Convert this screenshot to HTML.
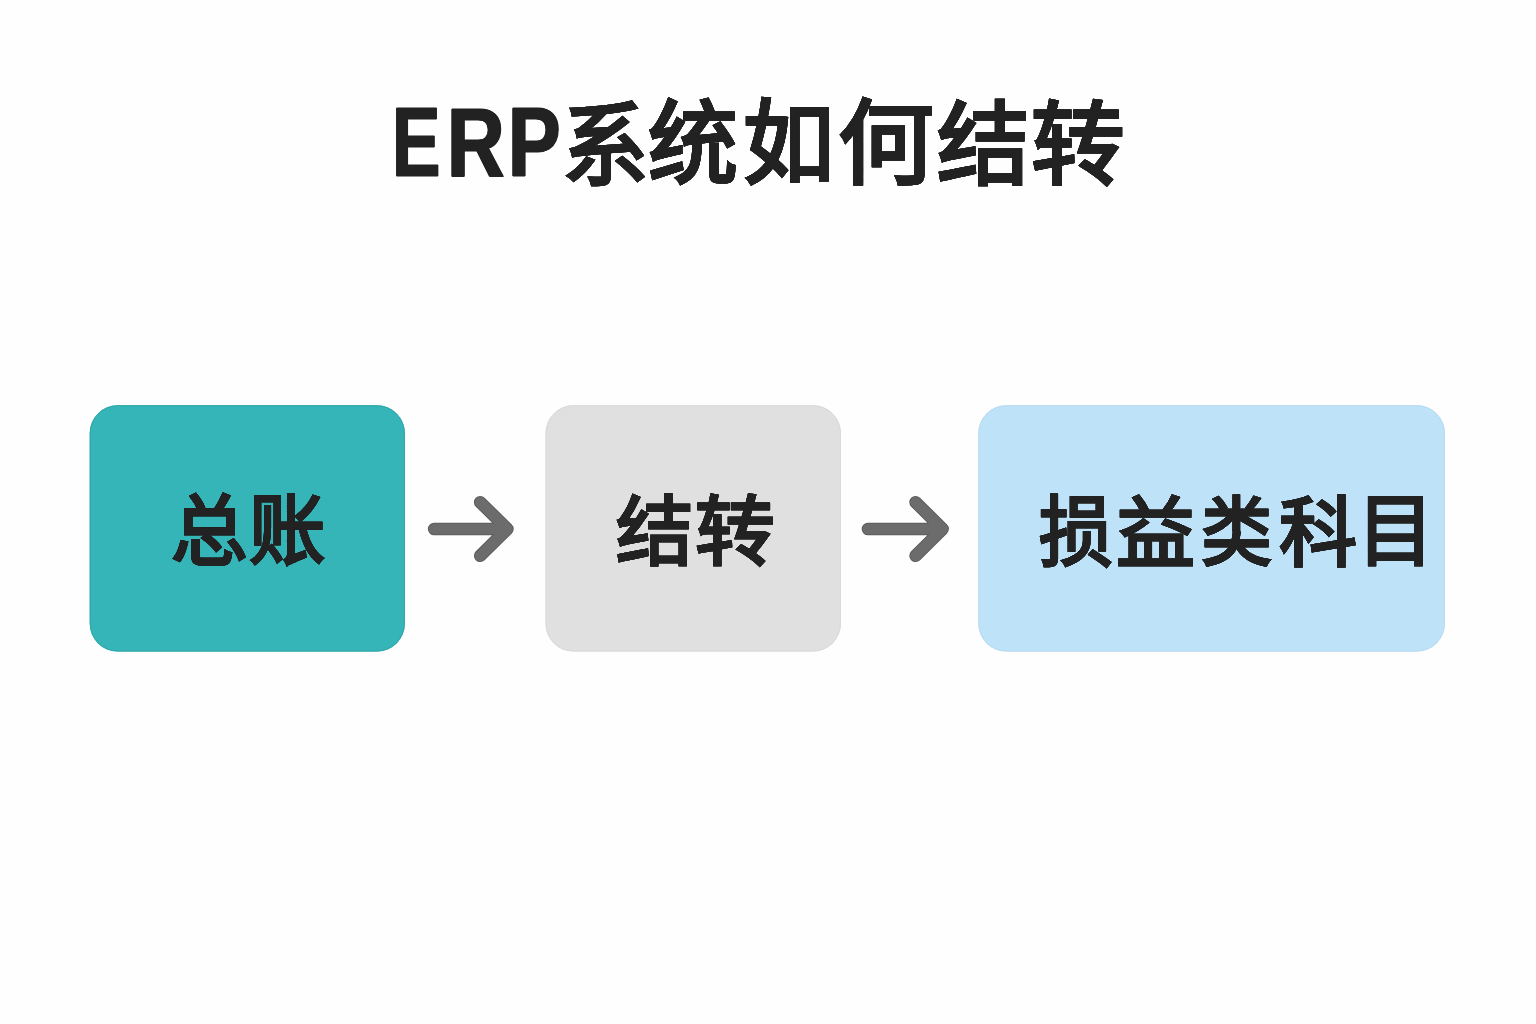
<!DOCTYPE html>
<html lang="zh-CN"><head><meta charset="utf-8">
<style>
html,body{margin:0;padding:0;}
body{width:1536px;height:1024px;background:#fefefe;position:relative;overflow:hidden;font-family:"Liberation Sans",sans-serif;color:#222;}
.c{position:absolute;-webkit-text-stroke:0 #222;font-weight:bold;line-height:2;white-space:nowrap;transform-origin:0 0;color:#222;}
.tl{text-shadow:0.012em 0 0 #222,-0.012em 0 0 #222;-webkit-text-stroke-width:0.01em;}
.tb{text-shadow:0.25px 0 0 #222,-0.25px 0 0 #222,0 0.25px 0 #222,0 -0.25px 0 #222;}
.ts{text-shadow:0.35px 0 0 #222,-0.35px 0 0 #222,0 0.35px 0 #222,0 -0.35px 0 #222;}
svg{position:absolute;left:0;top:0;}
</style></head><body>
<svg width="1536" height="1024" viewBox="0 0 1536 1024">
<rect x="89.7" y="405.2" width="315.2" height="246.4" rx="28" fill="#35b5b8"/>
<rect x="90.2" y="405.7" width="314.2" height="245.4" rx="27.5" fill="none" stroke="#2fa6a9" stroke-width="1"/>
<rect x="545.5" y="405.2" width="295.4" height="246.4" rx="28" fill="#e0e0e0"/>
<rect x="546" y="405.7" width="294.4" height="245.4" rx="27.5" fill="none" stroke="#d9d9d9" stroke-width="1"/>
<rect x="978.3" y="405.2" width="466.6" height="246.4" rx="28" fill="#bee3f9"/>
<rect x="978.8" y="405.7" width="465.6" height="245.4" rx="27.5" fill="none" stroke="#b8dbf0" stroke-width="1"/>
<path d="M434.2 529 H505 M480.2 502.2 L507.4 529 L480.2 555.8" fill="none" stroke="#575757" stroke-width="12.6" stroke-linecap="round" stroke-linejoin="round"/>
<path d="M434.2 529 H505 M480.2 502.2 L507.4 529 L480.2 555.8" fill="none" stroke="#6c6c6c" stroke-width="11" stroke-linecap="round" stroke-linejoin="round"/>
<path d="M868 529 H940 M915.6 502.2 L942.6 529 L915.6 555.8" fill="none" stroke="#575757" stroke-width="12.6" stroke-linecap="round" stroke-linejoin="round"/>
<path d="M868 529 H940 M915.6 502.2 L942.6 529 L915.6 555.8" fill="none" stroke="#6c6c6c" stroke-width="11" stroke-linecap="round" stroke-linejoin="round"/>
</svg>
<span class="c tl" style="left:392.20px;top:44.34px;font-size:98.64px;transform:scaleX(0.7365)">E</span>
<span class="c tl" style="left:446.52px;top:44.62px;font-size:98.21px;transform:scaleX(0.8115)">R</span>
<span class="c tl" style="left:508.27px;top:44.99px;font-size:97.63px;transform:scaleX(0.8055)">P</span>
<span class="c ts" style="left:561.64px;top:55.90px;font-size:90.91px;transform:scaleX(0.9517)">系</span>
<span class="c ts" style="left:648.48px;top:54.40px;font-size:90.83px;transform:scaleX(0.9905)">统</span>
<span class="c ts" style="left:742.97px;top:53.40px;font-size:92.04px;transform:scaleX(0.9914)">如</span>
<span class="c ts" style="left:838.13px;top:53.27px;font-size:91.97px;transform:scaleX(1.0398)">何</span>
<span class="c ts" style="left:937.17px;top:54.78px;font-size:90.92px;transform:scaleX(1.0215)">结</span>
<span class="c ts" style="left:1030.80px;top:54.92px;font-size:90.62px;transform:scaleX(1.0322)">转</span>
<span class="c tb" style="left:171.47px;top:455.13px;font-size:77.46px;transform:scaleX(0.9882)">总</span>
<span class="c tb" style="left:249.34px;top:454.20px;font-size:77.46px;transform:scaleX(0.9866)">账</span>
<span class="c tb" style="left:615.93px;top:456.75px;font-size:75.80px;transform:scaleX(1.0206)">结</span>
<span class="c tb" style="left:695.40px;top:456.53px;font-size:76.25px;transform:scaleX(1.0492)">转</span>
<span class="c tb" style="left:1038.56px;top:455.57px;font-size:77.81px;transform:scaleX(0.9464)">损</span>
<span class="c tb" style="left:1115.92px;top:456.92px;font-size:77.29px;transform:scaleX(1.0255)">益</span>
<span class="c tb" style="left:1201.06px;top:457.97px;font-size:75.17px;transform:scaleX(0.9458)">类</span>
<span class="c tb" style="left:1279.21px;top:457.60px;font-size:75.91px;transform:scaleX(1.0283)">科</span>
<span class="c tb" style="left:1356.62px;top:453.72px;font-size:78.87px;transform:scaleX(0.9768)">目</span>
</body></html>
